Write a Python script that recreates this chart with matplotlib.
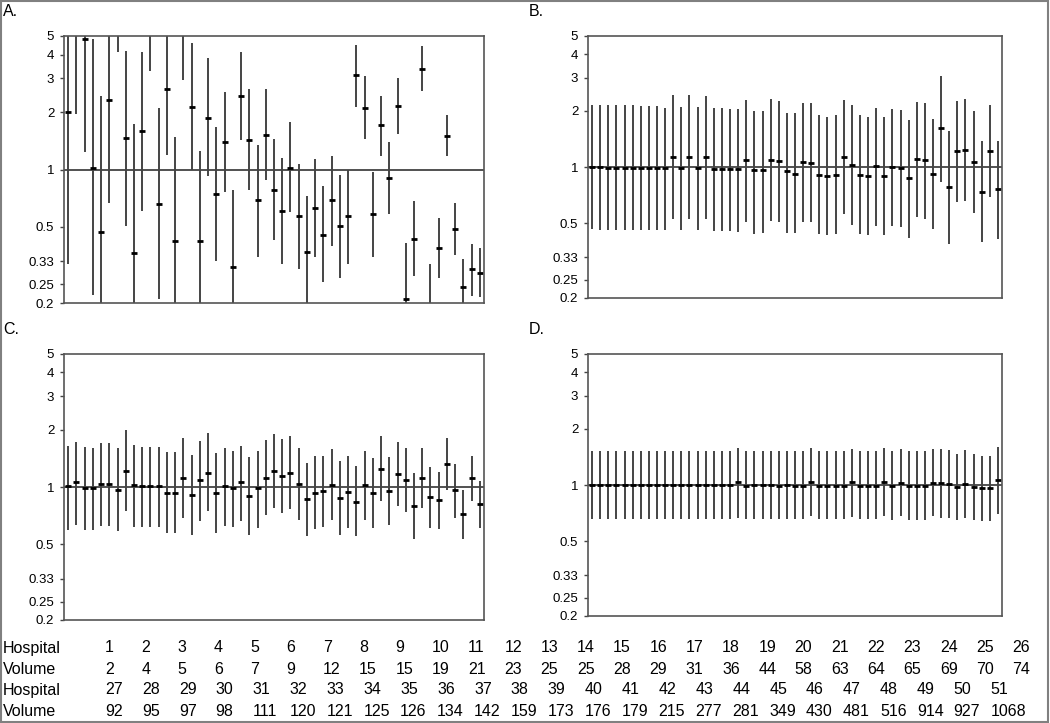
import numpy as np
import matplotlib
matplotlib.use("Agg")
import matplotlib.pyplot as plt
from matplotlib.ticker import NullLocator
from matplotlib.patches import Rectangle

plt.rcParams['font.family'] = ['Liberation Sans', 'DejaVu Sans']

# hospital index 1..51, odds ratio point estimates and CI limits per panel
hospitals = [1, 2, 3, 4, 5, 6, 7, 8, 9, 10, 11, 12, 13, 14, 15, 16, 17, 18, 19, 20,
             21, 22, 23, 24, 25, 26, 27, 28, 29, 30, 31, 32, 33, 34, 35, 36, 37, 38, 39, 40,
             41, 42, 43, 44, 45, 46, 47, 48, 49, 50, 51]

mean_a = [2.0, 6.5, 4.85, 1.02, 0.47, 2.30, 6.5, 1.47, 0.366, 1.60, 6.5, 0.66, 2.63, 0.42, 6.5,
          2.12, 0.42, 1.87, 0.74, 1.40, 0.31, 2.43, 1.42, 0.69, 1.52, 0.785, 0.607, 1.02, 0.57,
          0.37, 0.63, 0.456, 0.69, 0.505, 0.57, 3.12, 2.10, 0.585, 1.70, 0.90, 2.15, 0.21, 0.435,
          3.37, 0.15, 0.39, 1.50, 0.49, 0.243, 0.30, 0.288]
lower_a = [0.32, 1.96, 1.24, 0.22, 0.1, 0.666, 4.14, 0.505, 0.1, 0.607, 3.28, 0.21, 1.19, 0.1,
           2.93, 1.0, 0.1, 0.93, 0.33, 0.76, 0.1, 1.43, 0.78, 0.35, 0.88, 0.43, 0.32, 0.60, 0.30,
           0.1, 0.35, 0.257, 0.40, 0.27, 0.32, 2.13, 1.44, 0.35, 1.18, 0.588, 1.53, 0.1, 0.276,
           2.57, 0.1, 0.27, 1.17, 0.357, 0.1, 0.217, 0.215]
upper_a = [10, 10, 10, 4.85, 2.44, 10, 10, 4.17, 1.74, 4.12, 10, 2.1, 10, 1.48, 10, 4.58, 1.25,
           3.82, 1.67, 2.54, 0.78, 4.12, 2.65, 1.35, 2.64, 1.45, 1.15, 1.77, 1.07, 0.725, 1.13,
           0.824, 1.17, 0.94, 1.0, 4.49, 3.09, 0.97, 2.44, 1.40, 3.02, 0.41, 0.68, 4.43, 0.32,
           0.558, 1.93, 0.67, 0.34, 0.405, 0.39]

mean_b = [1.0, 1.0, 0.99, 0.99, 0.99, 0.99, 0.99, 0.99, 0.99, 0.985, 1.135, 0.985, 1.135, 0.985,
          1.135, 0.98, 0.98, 0.98, 0.975, 1.09, 0.965, 0.965, 1.09, 1.08, 0.95, 0.918, 1.063,
          1.05, 0.905, 0.90, 0.905, 1.135, 1.025, 0.905, 0.90, 1.01, 0.90, 1.0, 0.99, 0.87, 1.107,
          1.09, 0.918, 1.61, 0.78, 1.22, 1.23, 1.063, 0.74, 1.22, 0.76]
upper_b = [2.14, 2.14, 2.14, 2.14, 2.14, 2.14, 2.12, 2.12, 2.12, 2.07, 2.43, 2.09, 2.43, 2.09,
           2.40, 2.06, 2.06, 2.04, 2.04, 2.27, 1.99, 1.99, 2.30, 2.25, 1.93, 1.93, 2.2, 2.2, 1.89,
           1.85, 1.89, 2.28, 2.13, 1.89, 1.85, 2.06, 1.85, 2.04, 2.02, 1.78, 2.23, 2.2, 1.81, 3.06,
           1.55, 2.25, 2.3, 1.99, 1.37, 2.14, 1.37]
lower_b = [0.466, 0.46, 0.46, 0.46, 0.46, 0.46, 0.46, 0.46, 0.46, 0.46, 0.53, 0.46, 0.53, 0.46,
           0.525, 0.455, 0.455, 0.455, 0.45, 0.51, 0.44, 0.445, 0.515, 0.51, 0.445, 0.445, 0.507,
           0.507, 0.44, 0.435, 0.44, 0.56, 0.49, 0.44, 0.435, 0.487, 0.435, 0.487, 0.48, 0.42,
           0.54, 0.53, 0.465, 0.83, 0.39, 0.65, 0.66, 0.57, 0.40, 0.69, 0.415]

mean_c = [1.01, 1.058, 0.99, 0.985, 1.04, 1.04, 0.97, 1.22, 1.02, 1.01, 1.01, 1.01, 0.93, 0.93,
          1.11, 0.91, 1.085, 1.19, 0.93, 1.01, 0.985, 1.058, 0.90, 0.985, 1.12, 1.21, 1.14, 1.19,
          1.04, 0.865, 0.93, 0.95, 1.02, 0.875, 0.94, 0.83, 1.02, 0.93, 1.25, 0.95, 1.165, 1.09,
          0.79, 1.12, 0.886, 0.855, 1.32, 0.965, 0.72, 1.11, 0.815]
upper_c = [1.65, 1.73, 1.63, 1.61, 1.71, 1.71, 1.6, 2.0, 1.67, 1.63, 1.63, 1.63, 1.52, 1.52, 1.81,
           1.48, 1.74, 1.92, 1.5, 1.6, 1.55, 1.65, 1.43, 1.54, 1.76, 1.9, 1.78, 1.85, 1.61, 1.34,
           1.46, 1.46, 1.58, 1.37, 1.46, 1.29, 1.55, 1.42, 1.86, 1.44, 1.73, 1.61, 1.18, 1.61,
           1.27, 1.2, 1.81, 1.32, 0.97, 1.46, 1.08]
lower_c = [0.597, 0.635, 0.597, 0.597, 0.627, 0.627, 0.59, 0.745, 0.62, 0.615, 0.615, 0.615, 0.57,
           0.57, 0.685, 0.56, 0.665, 0.745, 0.575, 0.627, 0.62, 0.66, 0.56, 0.61, 0.71, 0.78,
           0.73, 0.765, 0.67, 0.555, 0.6, 0.62, 0.67, 0.56, 0.61, 0.55, 0.67, 0.61, 0.845, 0.63,
           0.79, 0.74, 0.535, 0.78, 0.61, 0.6, 0.97, 0.69, 0.53, 0.845, 0.61]

mean_d = [1.0, 1.0, 1.0, 1.0, 1.0, 1.0, 1.0, 1.0, 1.0, 1.0, 1.0, 1.0, 1.0, 1.0, 1.0, 1.0, 1.0,
          1.0, 1.04, 0.99, 1.0, 1.0, 1.0, 0.99, 1.0, 0.99, 0.99, 1.04, 0.99, 0.99, 0.99, 0.99,
          1.04, 0.99, 0.99, 0.99, 1.04, 0.99, 1.03, 0.99, 0.99, 0.99, 1.03, 1.03, 1.01, 0.97,
          1.01, 0.97, 0.96, 0.96, 1.06]
upper_d = [1.51, 1.51, 1.51, 1.51, 1.51, 1.51, 1.51, 1.51, 1.51, 1.51, 1.51, 1.51, 1.51, 1.51,
           1.51, 1.51, 1.51, 1.51, 1.57, 1.51, 1.51, 1.51, 1.51, 1.51, 1.51, 1.51, 1.51, 1.57,
           1.51, 1.51, 1.51, 1.51, 1.56, 1.51, 1.51, 1.51, 1.57, 1.51, 1.55, 1.51, 1.51, 1.51,
           1.56, 1.56, 1.53, 1.47, 1.53, 1.47, 1.43, 1.43, 1.6]
lower_d = [0.66, 0.66, 0.66, 0.66, 0.66, 0.66, 0.66, 0.66, 0.66, 0.66, 0.66, 0.66, 0.66, 0.66,
           0.66, 0.66, 0.66, 0.66, 0.67, 0.66, 0.66, 0.66, 0.66, 0.66, 0.66, 0.66, 0.66, 0.68,
           0.66, 0.66, 0.66, 0.66, 0.675, 0.66, 0.66, 0.66, 0.68, 0.65, 0.68, 0.65, 0.65, 0.65,
           0.68, 0.67, 0.665, 0.65, 0.665, 0.65, 0.64, 0.64, 0.70]

yticks = [0.2, 0.25, 0.33, 0.5, 1, 2, 3, 4, 5]
ytick_labels = ['0.2', '0.25', '0.33', '0.5', '1', '2', '3', '4', '5']

# table below the panels
hosp_row1 = ['1', '2', '3', '4', '5', '6', '7', '8', '9', '10', '11', '12', '13', '14', '15',
             '16', '17', '18', '19', '20', '21', '22', '23', '24', '25', '26']
vol_row1 = ['2', '4', '5', '6', '7', '9', '12', '15', '15', '19', '21', '23', '25', '25', '28',
            '29', '31', '36', '44', '58', '63', '64', '65', '69', '70', '74']
hosp_row2 = ['27', '28', '29', '30', '31', '32', '33', '34', '35', '36', '37', '38', '39', '40',
             '41', '42', '43', '44', '45', '46', '47', '48', '49', '50', '51']
vol_row2 = ['92', '95', '97', '98', '111', '120', '121', '125', '126', '134', '142', '159', '173',
            '176', '179', '215', '277', '281', '349', '430', '481', '516', '914', '927', '1068']

W, H = 1050, 723
fig = plt.figure(figsize=(W / 100, H / 100), dpi=100)
fig.patches.append(Rectangle((0.001, 0.001), 0.997, 0.997, transform=fig.transFigure,
                             fill=False, edgecolor='#808080', linewidth=1.5))


def px_axes(left, top, right, bottom):
    return fig.add_axes([left / W, 1 - bottom / H, (right - left) / W, (bottom - top) / H])


panels = [
    ('A.', (64, 36, 484, 303), mean_a, lower_a, upper_a, (3, 11)),
    ('B.', (588, 36, 1002, 298), mean_b, lower_b, upper_b, (529, 11)),
    ('C.', (64, 354, 484, 620), mean_c, lower_c, upper_c, (3, 330)),
    ('D.', (588, 354, 1002, 616), mean_d, lower_d, upper_d, (529, 330)),
]

for label, box, mean, lo, hi, lpos in panels:
    ax = px_axes(*box)
    x = np.array(hospitals)
    m = np.array(mean)
    err = [m - np.array(lo), np.array(hi) - m]
    ax.axhline(1, color='#333333', linewidth=1.2, zorder=1)
    ax.errorbar(x, m, yerr=err, fmt='_', color='black', ecolor='#444444',
                elinewidth=1.4, capsize=0, markersize=5, markeredgewidth=2, zorder=2)
    ax.set_yscale('log')
    ax.set_ylim(0.2, 5)
    ax.set_xlim(0.5, 51.5)
    ax.set_yticks(yticks)
    ax.set_yticklabels(ytick_labels)
    ax.yaxis.set_minor_locator(NullLocator())
    ax.set_xticks([])
    ax.tick_params(axis='y', direction='out', length=3, width=1, pad=4,
                   labelsize=9.5, color='#444444')
    for sp in ax.spines.values():
        sp.set_color('#555555')
        sp.set_linewidth(1.2)
    fig.text(lpos[0] / W, 1 - lpos[1] / H, label, fontsize=11.5, va='center', ha='left')

rows = [
    ('Hospital', hosp_row1, 648, 36.3),
    ('Volume', vol_row1, 669, 36.3),
    ('Hospital', hosp_row2, 690, 36.9),
    ('Volume', vol_row2, 712, 36.9),
]
for name, vals, y, step in rows:
    fig.text(3 / W, 1 - y / H, name, fontsize=11.5, va='center', ha='left')
    for i, v in enumerate(vals):
        fig.text((105 + i * step) / W, 1 - y / H, v, fontsize=11.5, va='center', ha='left')

fig.savefig('out.png', dpi=100)
